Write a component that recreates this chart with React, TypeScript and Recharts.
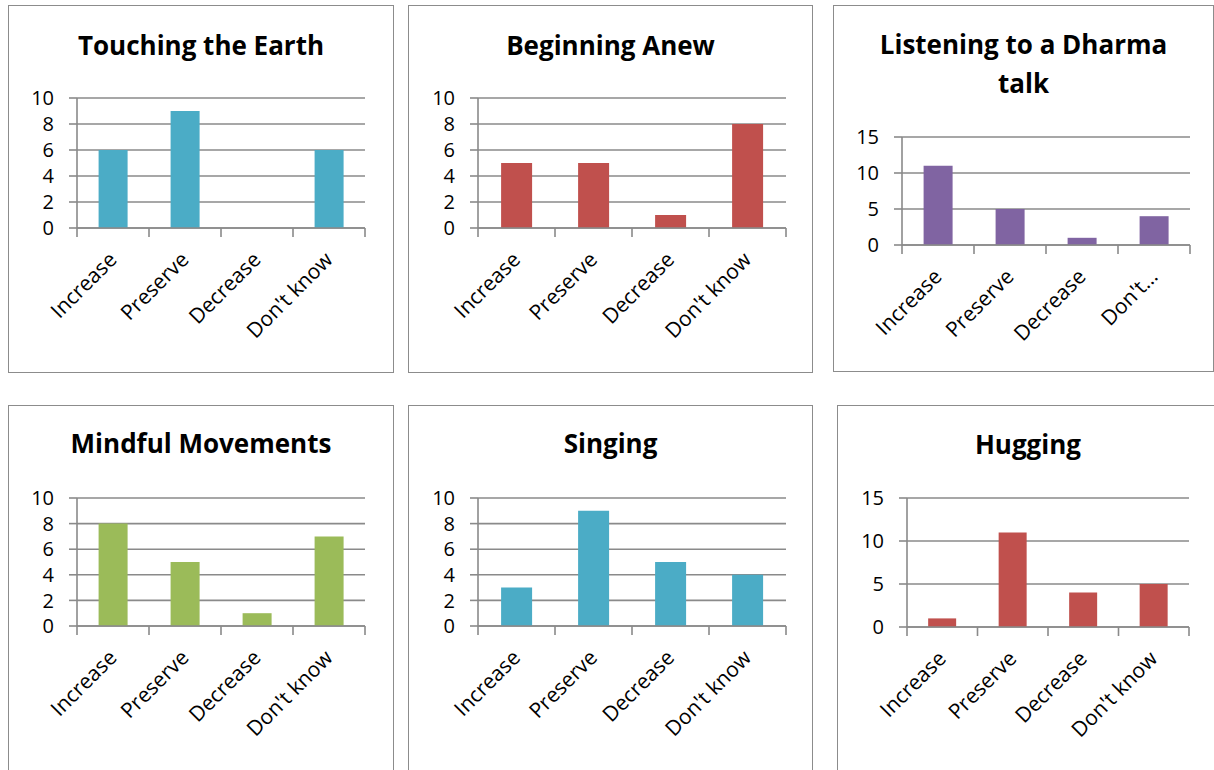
import { Bar, BarChart, CartesianGrid, XAxis, YAxis } from "recharts";

const categories = ["Increase", "Preserve", "Decrease", "Don't know"];
const dharmaTickLabels = ["Increase", "Preserve", "Decrease", "Don't…"];

const touchingValues = [6, 9, 0, 6];
const beginningValues = [5, 5, 1, 8];
const dharmaValues = [11, 5, 1, 4];
const mindfulValues = [8, 5, 1, 7];
const singingValues = [3, 9, 5, 4];
const huggingValues = [1, 11, 4, 5];

const ticksTo10 = [0, 2, 4, 6, 8, 10];
const ticksTo15 = [0, 5, 10, 15];

const FONT = "'Open Sans', 'Noto Sans', sans-serif";
const GRID = "#8a8a8a";
const Y_AXIS_W = 50;
const X_AXIS_H = 60;

type Box = { x: number; y: number; w: number; h: number };
type Plot = { left: number; top: number; right: number; bottom: number };

interface PanelProps {
  title: string[];
  titleTop: number;
  lineHeight: number;
  labels: string[];
  values: number[];
  color: string;
  ticks: number[];
  box: Box;
  plot: Plot;
}

function Panel({ title, titleTop, lineHeight, labels, values, color, ticks, box, plot }: PanelProps) {
  const data = labels.map((name, i) => ({ name, value: values[i] }));
  const band = (plot.right - plot.left) / labels.length;
  const last = labels[labels.length - 1];
  const margin = {
    top: plot.top - box.y,
    right: box.x + box.w - plot.right,
    left: plot.left - box.x - Y_AXIS_W,
    bottom: box.y + box.h - plot.bottom - X_AXIS_H,
  };

  // category labels at -45°, tick marks on the band boundaries (Excel style)
  const renderTick = (p: any) => {
    const { x, y, payload } = p;
    const tx = x + 5;
    const ty = y + 33;
    return (
      <g>
        <line x1={x - band / 2} y1={y} x2={x - band / 2} y2={y + 9} stroke={GRID} strokeWidth={1.6} />
        {payload.value === last && (
          <line x1={x + band / 2} y1={y} x2={x + band / 2} y2={y + 9} stroke={GRID} strokeWidth={1.6} />
        )}
        <text
          x={tx}
          y={ty}
          transform={`rotate(-45, ${tx}, ${ty})`}
          textAnchor="end"
          fontSize={21}
          fontFamily={FONT}
          fill="#000"
        >
          {payload.value}
        </text>
      </g>
    );
  };

  return (
    <div
      style={{
        position: "absolute",
        left: box.x,
        top: box.y,
        width: box.w,
        height: box.h,
        boxSizing: "border-box",
        border: "1px solid #8c8c8c",
      }}
    >
      <div
        style={{
          position: "absolute",
          left: 0,
          right: 0,
          top: titleTop,
          textAlign: "center",
          fontFamily: FONT,
          fontWeight: 700,
          fontSize: 26,
          lineHeight: `${lineHeight}px`,
          color: "#000",
        }}
      >
        {title.map((line) => (
          <div key={line}>{line}</div>
        ))}
      </div>
      <div style={{ position: "absolute", left: -1, top: -1 }}>
        <BarChart width={box.w} height={box.h} data={data} margin={margin} barCategoryGap="30%">
          <CartesianGrid vertical={false} stroke={GRID} strokeWidth={1.6} />
          <XAxis
            dataKey="name"
            interval={0}
            height={X_AXIS_H}
            axisLine={{ stroke: GRID, strokeWidth: 1.6 }}
            tickLine={false}
            tickSize={0}
            tickMargin={0}
            tick={renderTick}
          />
          <YAxis
            type="number"
            width={Y_AXIS_W}
            domain={[0, ticks[ticks.length - 1]]}
            ticks={ticks}
            interval={0}
            axisLine={{ stroke: GRID, strokeWidth: 1.6 }}
            tickLine={{ stroke: GRID, strokeWidth: 1.6 }}
            tickSize={8}
            tickMargin={15}
            tick={{ fill: "#000", fontSize: 20, fontFamily: FONT }}
          />
          <Bar dataKey="value" fill={color} isAnimationActive={false} />
        </BarChart>
      </div>
    </div>
  );
}

export default function App() {
  return (
    <div
      style={{
        position: "absolute",
        left: 0,
        top: 0,
        width: 1214,
        height: 770,
        overflow: "hidden",
        background: "#fff",
      }}
    >
      <Panel
        title={["Touching the Earth"]}
        titleTop={23}
        lineHeight={32}
        labels={categories}
        values={touchingValues}
        color="#4BACC6"
        ticks={ticksTo10}
        box={{ x: 8, y: 5, w: 386, h: 368 }}
        plot={{ left: 77, top: 98, right: 365, bottom: 228 }}
      />
      <Panel
        title={["Beginning Anew"]}
        titleTop={23}
        lineHeight={32}
        labels={categories}
        values={beginningValues}
        color="#C0504D"
        ticks={ticksTo10}
        box={{ x: 408, y: 5, w: 405, h: 368 }}
        plot={{ left: 478, top: 98, right: 786, bottom: 228 }}
      />
      <Panel
        title={["Listening to a Dharma", "talk"]}
        titleTop={19}
        lineHeight={39}
        labels={dharmaTickLabels}
        values={dharmaValues}
        color="#8064A2"
        ticks={ticksTo15}
        box={{ x: 833, y: 5, w: 381, h: 367 }}
        plot={{ left: 902, top: 137, right: 1190, bottom: 245 }}
      />
      <Panel
        title={["Mindful Movements"]}
        titleTop={21}
        lineHeight={32}
        labels={categories}
        values={mindfulValues}
        color="#9BBB59"
        ticks={ticksTo10}
        box={{ x: 8, y: 405, w: 386, h: 380 }}
        plot={{ left: 77, top: 498, right: 365, bottom: 626 }}
      />
      <Panel
        title={["Singing"]}
        titleTop={21}
        lineHeight={32}
        labels={categories}
        values={singingValues}
        color="#4BACC6"
        ticks={ticksTo10}
        box={{ x: 408, y: 405, w: 405, h: 380 }}
        plot={{ left: 478, top: 498, right: 786, bottom: 626 }}
      />
      <Panel
        title={["Hugging"]}
        titleTop={22}
        lineHeight={32}
        labels={categories}
        values={huggingValues}
        color="#C0504D"
        ticks={ticksTo15}
        box={{ x: 837, y: 405, w: 382, h: 380 }}
        plot={{ left: 907, top: 498, right: 1189, bottom: 627 }}
      />
    </div>
  );
}
